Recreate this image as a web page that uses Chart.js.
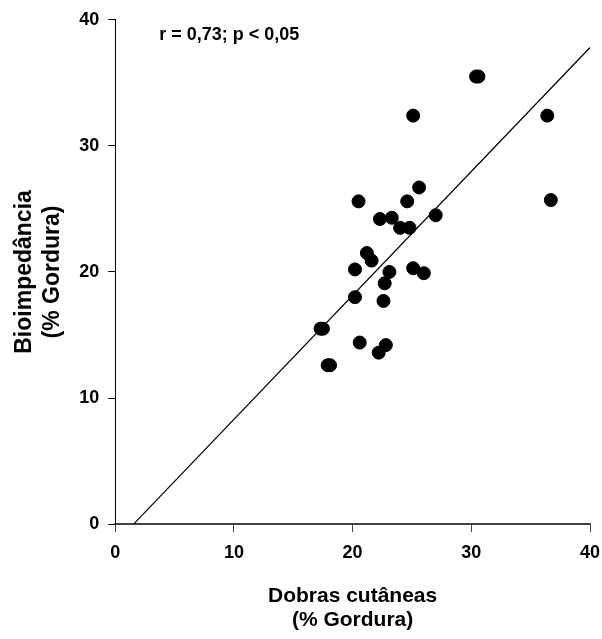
<!DOCTYPE html>
<html>
<head>
<meta charset="utf-8">
<script src="https://cdn.jsdelivr.net/npm/chart.js@4"></script>
<style>
html,body{margin:0;padding:0;background:#fff;overflow:hidden}
#wrap{width:602px;height:639px;position:relative}
canvas{display:block}
</style>
</head>
<body>
<div id="wrap"><canvas id="c"></canvas></div>
<script>
// skinfold % fat (x) vs bioimpedance % fat (y)
const dobras=[30.4,30.6,25.1,36.4,25.6,20.5,24.6,36.7,22.3,23.3,27.0,24.0,24.8,21.2,21.6,20.2,23.1,25.1,26.0,22.7,20.2,22.6,17.3,17.5,20.6,22.8,22.2,17.9,18.1];
const bioimp=[35.5,35.5,32.4,32.4,26.7,25.6,25.6,25.7,24.2,24.3,24.5,23.5,23.5,21.5,20.9,20.2,20.0,20.3,19.9,19.1,18.0,17.7,15.5,15.5,14.4,14.2,13.6,12.6,12.6];
// regression line end points
const lineX=[1.55,40];
const lineY=[0,37.8];
const xTitle=['Dobras cutâneas','(% Gordura)'];
const yTitle=['Bioimpedância','(% Gordura)'];
const note='r = 0,73; p < 0,05';
const noteAt={x:3.7,y:38.8};

const FONT="Arial, 'Liberation Sans', sans-serif";

const notePlugin={
  id:'note',
  afterDatasetsDraw(chart){
    const {ctx,scales}=chart;
    ctx.save();
    ctx.font='bold 18px '+FONT;
    ctx.fillStyle='#000';
    ctx.textAlign='left';ctx.textBaseline='middle';
    ctx.fillText(note, scales.x.getPixelForValue(noteAt.x), scales.y.getPixelForValue(noteAt.y));
    ctx.restore();
  }
};

new Chart(document.getElementById('c'),{
  type:'scatter',
  data:{datasets:[
    {type:'line',data:lineX.map((x,i)=>({x,y:lineY[i]})),borderColor:'#000',borderWidth:1.2,pointRadius:0,fill:false},
    {data:dobras.map((x,i)=>({x,y:bioimp[i]})),backgroundColor:'#000',borderColor:'#000',pointRadius:6.5,pointHoverRadius:6.5}
  ]},
  options:{
    responsive:true,maintainAspectRatio:false,animation:false,
    layout:{padding:{top:14,right:2,left:7,bottom:7}},
    plugins:{legend:{display:false},tooltip:{enabled:false}},
    scales:{
      x:{type:'linear',min:0,max:40,
        // chart.js adds tick padding to the right overhang; keep just half the "40" label
        afterFit(s){s.paddingRight=12},
        ticks:{stepSize:10,color:'#000',font:{family:FONT,size:18,weight:'bold'},padding:10},
        grid:{drawOnChartArea:false,drawTicks:true,tickLength:8,color:'#444'},
        border:{color:'#444',width:2},
        title:{display:true,text:xTitle,color:'#000',font:{family:FONT,size:21,weight:'bold',lineHeight:1.15},padding:{top:10,bottom:0}}
      },
      y:{type:'linear',min:0,max:40,
        ticks:{stepSize:10,color:'#000',font:{family:FONT,size:18,weight:'bold'},padding:9},
        grid:{drawOnChartArea:false,drawTicks:true,tickLength:7,color:'#000'},
        border:{color:'#000',width:1},
        title:{display:true,text:yTitle,color:'#000',font:{family:FONT,size:23,weight:'bold',lineHeight:1.2},padding:{top:4,bottom:4}}
      }
    }
  },
  plugins:[notePlugin]
});
</script>
</body>
</html>
